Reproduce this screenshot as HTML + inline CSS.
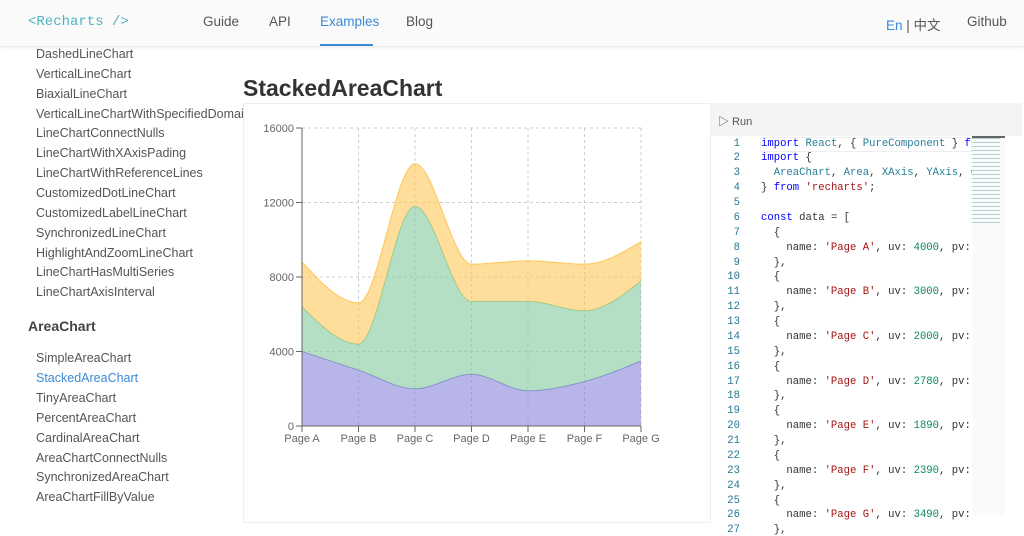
<!DOCTYPE html>
<html><head><meta charset="utf-8"><style>
*{margin:0;padding:0;box-sizing:border-box}
body{width:1024px;height:515px;overflow:hidden;background:#fff;font-family:"Liberation Sans","Noto Sans CJK SC",sans-serif;position:relative}
.hdr{position:absolute;left:0;top:0;width:1024px;height:46px;background:#fafafa;box-shadow:0 1px 3px rgba(0,0,0,.12);z-index:2}
.hdr span{position:absolute;top:14px;font-size:13.5px;color:#555}
.logo{left:28px;font-family:"Liberation Mono",monospace;color:#4fb3c4!important;font-size:14px!important}
.side{position:absolute;left:36px;font-size:12.5px;color:#555}
.code{position:absolute;font-family:"Liberation Mono",monospace;font-size:10.6px;white-space:pre;color:#333}
.ln{position:absolute;width:40px;text-align:right;left:700px;font-family:"Liberation Mono",monospace;font-size:10.6px;color:#237893}
.k{color:#0000ff}.s{color:#a31515}.n{color:#09885a}.t{color:#267f99}
</style></head><body>
<div class="hdr">
<span class="logo">&lt;Recharts /&gt;</span>
<span style="left:203px">Guide</span><span style="left:269px">API</span>
<span style="left:320px;color:#3b8ad8">Examples</span>
<div style="position:absolute;left:320px;top:44px;width:53px;height:2px;background:#3b8ad8"></div>
<span style="left:406px">Blog</span>
<span style="left:886px"><b style="font-weight:normal;color:#3b8ad8">En</b> | 中文</span>
<span style="left:967px">Github</span>
</div>
<div id="side"></div>
<div style="position:absolute;left:28px;top:318px;font-size:14px;color:#444;font-weight:bold">AreaChart</div>
<div style="position:absolute;left:243px;top:75px;font-size:23px;font-weight:bold;color:#333">StackedAreaChart</div>
<div style="position:absolute;left:243px;top:103px;width:468px;height:420px;border:1px solid #eee"></div>
<div style="position:absolute;left:710px;top:103px;width:312px;height:33px;background:#f4f4f4"></div>
<div style="position:absolute;left:718px;top:113px;font-size:11px;color:#555">▷ Run</div>
<div style="position:absolute;left:760px;top:137px;width:212px;height:15px;border:1px solid #eee"></div>
<div style="position:absolute;left:972px;top:136px;width:33px;height:379px;background:#fafafa"></div>
<div style="position:absolute;left:972px;top:136px;width:33px;height:2px;background:#666"></div>
<div style="position:absolute;left:972px;top:138px;width:28px;height:85px;opacity:.5;background:repeating-linear-gradient(#6aa 0 1px,transparent 1px 4px)"></div>
<div id="code"></div>
<svg id="ch" style="position:absolute;left:0;top:0" width="1024" height="515"></svg>
<script>
var S=["DashedLineChart","VerticalLineChart","BiaxialLineChart","VerticalLineChartWithSpecifiedDomain","LineChartConnectNulls","LineChartWithXAxisPading","LineChartWithReferenceLines","CustomizedDotLineChart","CustomizedLabelLineChart","SynchronizedLineChart","HighlightAndZoomLineChart","LineChartHasMultiSeries","LineChartAxisInterval"];
var S2=["SimpleAreaChart","StackedAreaChart","TinyAreaChart","PercentAreaChart","CardinalAreaChart","AreaChartConnectNulls","SynchronizedAreaChart","AreaChartFillByValue"];
var h="";S.forEach(function(s,i){h+='<div class="side" style="top:'+(47+i*19.85)+'px;width:207px;overflow:hidden">'+s+'</div>'});
S2.forEach(function(s,i){h+='<div class="side" style="top:'+(351+i*19.9)+'px'+(i==1?';color:#3b8ad8':'')+'">'+s+'</div>'});
document.getElementById('side').innerHTML=h;
var L=['<span class="k">import</span> <span class="t">React</span>, { <span class="t">PureComponent</span> } <span class="k">from</span>','<span class="k">import</span> {','  <span class="t">AreaChart</span>, <span class="t">Area</span>, <span class="t">XAxis</span>, <span class="t">YAxis</span>, <span class="t">Ca</span>','} <span class="k">from</span> <span class="s">\'recharts\'</span>;','','<span class="k">const</span> data = ['];
var D=[["A",4000,24],["B",3000,13],["C",2000,98],["D",2780,39],["E",1890,48],["F",2390,38],["G",3490,43]];
D.forEach(function(d){L.push('  {');L.push('    name: <span class="s">\'Page '+d[0]+'\'</span>, uv: <span class="n">'+d[1]+'</span>, pv: <span class="n">'+d[2]+'</span>');L.push('  },')});
h="";for(var i=0;i<27;i++){var y=137.5+i*14.875;h+='<div class="ln" style="top:'+y+'px">'+(i+1)+'</div>';if(L[i]!==undefined)h+='<div class="code" style="left:761px;top:'+y+'px;width:211px;overflow:hidden">'+L[i]+'</div>'}
document.getElementById('code').innerHTML=h;
var uv=[4000,3000,2000,2780,1890,2390,3490],pv=[2400,1398,9800,3908,4800,3800,4300],am=[2400,2210,2290,2000,2181,2500,2100];
var X=function(i){return 302+i*56.5},Y=function(v){return 426-v*298/16000};
function mono(xs,ys){var n=xs.length,m=[],d=[];for(var i=0;i<n-1;i++)d.push((ys[i+1]-ys[i])/(xs[i+1]-xs[i]));
for(i=1;i<n-1;i++){var h0=xs[i]-xs[i-1],h1=xs[i+1]-xs[i],s0=d[i-1],s1=d[i],p=(s0*h1+s1*h0)/(h0+h1);m[i]=(Math.sign(s0)+Math.sign(s1))*Math.min(Math.abs(s0),Math.abs(s1),.5*Math.abs(p))||0}
m[0]=(3*d[0]-m[1])/2;m[n-1]=(3*d[n-2]-m[n-2])/2;
var p="";for(i=0;i<n-1;i++){var dx=(xs[i+1]-xs[i])/3;p+=" C"+(xs[i]+dx)+","+(ys[i]+dx*m[i])+" "+(xs[i+1]-dx)+","+(ys[i+1]-dx*m[i+1])+" "+xs[i+1]+","+ys[i+1]}return p}
function rev(xs,ys){return mono(xs.slice().reverse(),ys.slice().reverse())}
var xs=uv.map(function(_,i){return X(i)});
var s1=uv,s2=uv.map(function(v,i){return v+pv[i]}),s3=s2.map(function(v,i){return v+am[i]});
var y0=uv.map(function(){return Y(0)}),y1=s1.map(Y),y2=s2.map(Y),y3=s3.map(Y);
function area(lo,hi,c){return '<path d="M'+xs[0]+','+hi[0]+mono(xs,hi)+' L'+xs[6]+','+lo[6]+rev(xs,lo)+'Z" fill="'+c+'" fill-opacity="0.6"/><path d="M'+xs[0]+','+hi[0]+mono(xs,hi)+'" fill="none" stroke="'+c+'"/>'}
var g="";
for(i=0;i<=4;i++){g+='<line x1="302" x2="641" y1="'+Y(i*4000)+'" y2="'+Y(i*4000)+'" stroke="#ccc" stroke-dasharray="3 3"/>'}
for(i=0;i<7;i++){g+='<line x1="'+X(i)+'" x2="'+X(i)+'" y1="128" y2="426" stroke="#ccc" stroke-dasharray="3 3"/>'}
g+=area(y0,y1,"#8884d8")+area(y1,y2,"#82ca9d")+area(y2,y3,"#ffc658");
g+='<line x1="302" x2="302" y1="128" y2="426" stroke="#666"/><line x1="302" x2="641" y1="426" y2="426" stroke="#666"/>';
for(i=0;i<=4;i++){var y=Y(i*4000);g+='<line x1="296" x2="302" y1="'+y+'" y2="'+y+'" stroke="#666"/><text x="294" y="'+(y+4)+'" text-anchor="end" font-size="11" fill="#666">'+(i*4000)+'</text>'}
"ABCDEFG".split("").forEach(function(c,i){g+='<line x1="'+X(i)+'" x2="'+X(i)+'" y1="426" y2="432" stroke="#666"/><text x="'+X(i)+'" y="442" text-anchor="middle" font-size="11" fill="#666">Page '+c+'</text>'});
document.getElementById('ch').innerHTML=g;
</script>
</body></html>
